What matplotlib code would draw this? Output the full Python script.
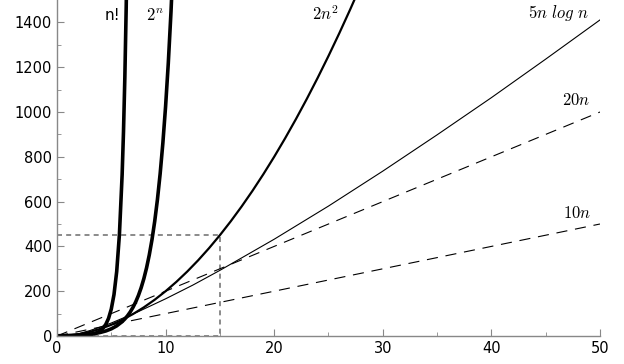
import matplotlib
matplotlib.use("Agg")
import matplotlib.pyplot as plt

plt.rcParams['mathtext.fontset'] = 'cm'

# n! (smooth gamma curve values)
fact_n = [0, 0.5, 1, 1.5, 2, 2.5, 3, 3.25, 3.5, 3.75, 4, 4.25, 4.5, 4.75, 5,
          5.25, 5.5, 5.75, 6, 6.125, 6.25, 6.375, 6.5]
fact_y = [1, 0.886, 1, 1.33, 2, 3.32, 6, 8.29, 11.6, 16.6, 24, 35.2, 52.3, 78.8, 120,
          184.9, 287.9, 453, 720, 911, 1155, 1469, 1871]

# 2^n
exp_n = [0, 1, 2, 3, 3.5, 4, 4.5, 5, 5.5, 6, 6.25, 6.5, 6.75, 7, 7.25, 7.5, 7.75, 8,
         8.25, 8.5, 8.75, 9, 9.25, 9.5, 9.75, 10, 10.25, 10.5, 10.75, 11]
exp_y = [1, 2, 4, 8, 11.3, 16, 22.6, 32, 45.3, 64, 76.1, 90.5, 107.6, 128, 152.2, 181,
         215.3, 256, 304.4, 362, 430.5, 512, 608.9, 724.1, 861.1, 1024, 1217.7, 1448.2,
         1722.2, 2048]

# 2n^2
sq_n = list(range(0, 29))
sq_y = [0, 2, 8, 18, 32, 50, 72, 98, 128, 162, 200, 242, 288, 338, 392, 450,
        512, 578, 648, 722, 800, 882, 968, 1058, 1152, 1250, 1352, 1458, 1568]

# 5n log n
nlog_n = [1, 2, 3, 4, 5, 7.5, 10, 12.5, 15, 20, 25, 30, 35, 40, 45, 50]
nlog_y = [0, 10, 23.8, 40, 58, 109, 166, 227, 293, 432, 580, 736, 898, 1064, 1236, 1411]

# linear ones
lin_n = [0, 50]
lin20_y = [0, 1000]
lin10_y = [0, 500]

box_x = [0, 15, 15, 0]
box_y = [450, 450, 0, 0]

fig = plt.figure(figsize=(6.24, 3.64), dpi=100)
ax = fig.add_axes([0.0913, 0.0769, 0.8702, 0.9231])

ax.plot(box_x, box_y, color='#777777', lw=1.2, ls=(0, (3, 2.5)), zorder=1)
ax.plot(lin_n, lin20_y, color='black', lw=0.8, ls=(0, (10, 7)))
ax.plot(lin_n, lin10_y, color='black', lw=0.8, ls=(0, (10, 7)))
ax.plot(nlog_n, nlog_y, color='black', lw=0.8)
ax.plot(sq_n, sq_y, color='black', lw=1.6)
ax.plot(exp_n, exp_y, color='black', lw=2.6)
ax.plot(fact_n, fact_y, color='black', lw=2.6)

ax.text(5.8, 1430, 'n!', ha='right', va='center', fontsize=11)
ax.text(9.0, 1435, r'$2^n$', ha='center', va='center', fontsize=12)
ax.text(24.7, 1435, r'$2n^2$', ha='center', va='center', fontsize=12)
ax.text(46.2, 1440, r'$5n\ log\ n$', ha='center', va='center', fontsize=12)
ax.text(47.8, 1052, r'$20n$', ha='center', va='center', fontsize=12)
ax.text(47.9, 548, r'$10n$', ha='center', va='center', fontsize=12)

ax.set_xlim(0, 50)
ax.set_ylim(0, 1500)
ax.set_xticks([0, 10, 20, 30, 40, 50])
ax.set_xticks([5, 15, 25, 35, 45], minor=True)
ax.set_yticks([0, 200, 400, 600, 800, 1000, 1200, 1400])
ax.set_yticks(list(range(100, 1500, 200)), minor=True)

for s in ['top', 'right']:
    ax.spines[s].set_visible(False)
for s in ['left', 'bottom']:
    ax.spines[s].set_color('#888888')
    ax.spines[s].set_linewidth(1.0)

ax.tick_params(which='both', direction='in', color='#888888', labelsize=10.5)
ax.tick_params(which='major', length=5)
ax.tick_params(which='minor', length=3)

fig.savefig('out.png', dpi=100)
